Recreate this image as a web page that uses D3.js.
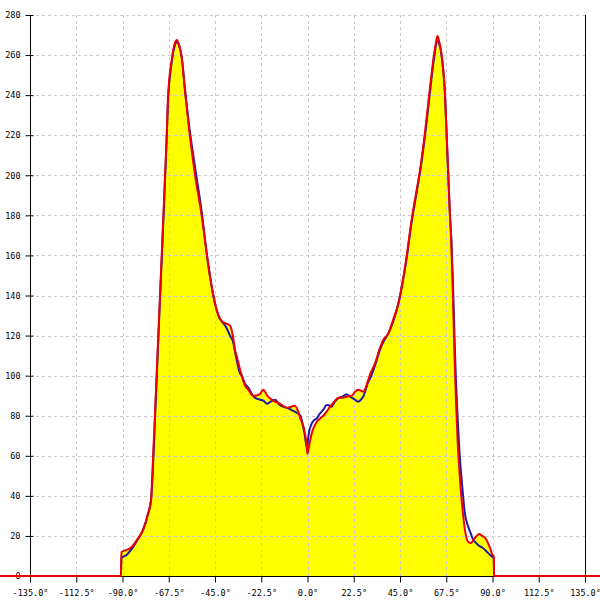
<!DOCTYPE html>
<html><head><meta charset="utf-8">
<script src="https://cdn.jsdelivr.net/npm/d3@7"></script>
<style>html,body{margin:0;padding:0;background:#fff;}svg{display:block;}</style>
</head><body>
<script>
const angles = [-150,-90.8,-90.5,-88,-85.5,-83,-80,-77.6,-76.1,-75.6,-74,-72.5,-71.3,-70.1,-69.3,-68.5,-67.9,-66,-64.5,-63.5,-62.5,-61.2,-59.6,-57.5,-54.7,-51.5,-48.9,-47.5,-46,-44.5,-43,-41.6,-39.5,-37.7,-36,-35.3,-34.5,-32.8,-32,-30.4,-28.8,-26.5,-25.5,-23,-21.5,-19.6,-18,-15.8,-13.4,-10.1,-8,-6.1,-4.5,-3.6,-1.2,-0.4,0,0.6,2,3,4.5,6,7.7,9.3,11,11.8,13,15,17,19,20.7,21.5,23.1,24.7,26,27.1,29.6,30.4,32.8,35.3,37,39.3,41.7,44.2,46,48,50.7,53,55.1,57.2,59.3,61.5,62.5,63.2,64,65.3,66.9,67.7,68.5,69.3,70,70.8,71.5,72.2,73,74.2,75,76.6,78.2,79.5,80.7,81.5,83.6,85,86.4,88.8,90,90.6,90.8,150];
const redValues = [0,0,12,13,14.5,18,23,31,38,48,86,122,151,180,200,220,238,258,266,267.5,265,259,242,222,200,180,160,150,141,134,129.5,127,126,125,118,113,110,103,100,95,93,90,90,91,93,90,88.5,87,86,84,84.5,85,82,79,71,65,61,64,71,74,77,78.5,80,82,84.5,85.5,87,89,89,89.5,90,90,92,93,92.5,92,98,100.5,106,114,118,121,128,136,145,158,178,192,205,222,241,260,266,269.5,267,260,240,220,200,180,165,138,110,88,68,48,38,23,17,16.5,18,19,21,20,19,14,10.5,10,0,0];
const blueValues = [0,0,9,10.5,13.5,17.5,23,31,38,46,83,120,149,178,198,218,236,257,265,266.5,265,259,243,224,204,182,160,150,141,134,129,127,124,120,116,112,108,101,100,96,94,90,89,88,87.5,86,87,88,85.3,84,83,82,81,80.3,69.5,64.5,66,71,76,77.5,78.7,81,83,85.3,85,84.5,86.5,88.7,89.5,90.7,89.5,89,88,87,88,89.5,97,98.5,105,113,117,121,127,136,145,157,177,191,204,220,239,258,265,268,266,259,240,220,200,180,168,145,120,98,80,58,48,31,24.5,21,18,17,15,14.2,13,10.5,9.5,9,0,0];
const xTicks = [-135,-112.5,-90,-67.5,-45,-22.5,0,22.5,45,67.5,90,112.5,135];
const yTicks = [0,20,40,60,80,100,120,140,160,180,200,220,240,260,280];

const W = 600, H = 600;
const svg = d3.select("body").append("svg").attr("width", W).attr("height", H);
const x = d3.scaleLinear().domain([-135, 135]).range([30, 585]);
const y = d3.scaleLinear().domain([0, 280]).range([576, 15]);

const red = angles.map((a, i) => ({a, v: redValues[i]}));
const blue = angles.map((a, i) => ({a, v: blueValues[i]}));
const curve = d3.curveMonotoneX;

// fill under red
svg.append("path").datum(red)
  .attr("fill", "#ffff00")
  .attr("d", d3.area().curve(curve).x(d => x(d.a)).y0(y(0)).y1(d => y(d.v)));

// grid
const grid = svg.append("g").attr("stroke", "#cacaca").attr("stroke-width", 1).attr("stroke-dasharray", "3,3");
yTicks.forEach(t => {
  if (t === 0) return;
  grid.append("line").attr("x1", 30).attr("x2", 585).attr("y1", Math.round(y(t)) + 0.5).attr("y2", Math.round(y(t)) + 0.5);
});
xTicks.forEach(t => {
  if (t === -135 || t === 135) return;
  grid.append("line").attr("x1", Math.round(x(t)) + 0.5).attr("x2", Math.round(x(t)) + 0.5).attr("y1", 15).attr("y2", 576);
});

// y axis (left)
const yAxis = d3.axisLeft(y).tickValues(yTicks).tickSize(5).tickPadding(5).tickFormat(d3.format("d"));
const gy = svg.append("g").attr("transform", "translate(30.5,0)").call(yAxis);
gy.select(".domain").attr("stroke", "#000").attr("d", `M0,${y(280)}V${y(0)}`);
gy.selectAll(".tick line").attr("stroke", "#000").attr("x1", 3).attr("x2", -5);
gy.selectAll(".tick text").attr("font-family", "DejaVu Sans Mono, monospace").attr("font-size", "8.5px").attr("fill", "#000").attr("x", -10);

// right axis line
svg.append("line").attr("x1", 585.5).attr("x2", 585.5).attr("y1", 15).attr("y2", 576).attr("stroke", "#000");

// x axis
const xAxis = d3.axisBottom(x).tickValues(xTicks).tickSize(6).tickPadding(7).tickFormat(d => d.toFixed(1) + "°");
const gx = svg.append("g").attr("transform", "translate(0,576.5)").call(xAxis);
gx.select(".domain").attr("stroke", "#000").attr("d", `M${x(-135)},0H${x(135)}`);
gx.selectAll(".tick line").attr("stroke", "#000");
gx.selectAll(".tick text").attr("font-family", "DejaVu Sans Mono, monospace").attr("font-size", "8.5px").attr("fill", "#000");

const line = d3.line().curve(curve).x(d => x(d.a)).y(d => y(d.v));
svg.append("path").datum(blue).attr("fill", "none").attr("stroke", "#1a1aa8").attr("stroke-width", 2).attr("stroke-linejoin", "round").attr("d", line);
svg.append("path").datum(red).attr("fill", "none").attr("stroke", "#ee0000").attr("stroke-width", 2).attr("stroke-linejoin", "round").attr("d", line);
</script>
</body></html>
